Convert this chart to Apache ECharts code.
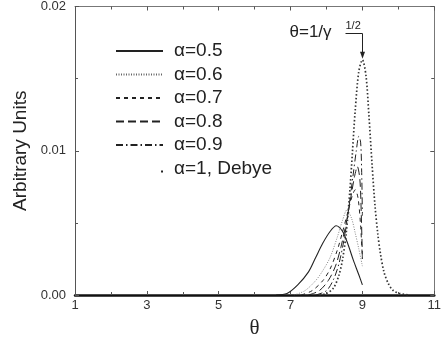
<!DOCTYPE html>
<html>
<head>
<meta charset="utf-8">
<script src="https://cdn.jsdelivr.net/npm/echarts@6/dist/echarts.min.js"></script>
<style>
  html, body { margin: 0; padding: 0; background: #fff; }
  #dom { width: 444px; height: 344px; }
</style>
</head>
<body>
<div id="dom"></div>
<script>
// axis ticks
var xTicks = [1, 3, 5, 7, 9, 11];
var yTicks = [0, 0.01, 0.02];

// alpha = 0.5
var theta05 = [6.6, 6.9, 7.2, 7.5, 7.7, 7.9, 8.1, 8.27, 8.45, 8.6, 8.75, 8.9, 9.0];
var val05 = [0, 0.0001, 0.0007, 0.0016, 0.0026, 0.0036, 0.0044, 0.0048, 0.0044, 0.0035, 0.0024, 0.0014, 0.0007];
// alpha = 0.6
var theta06 = [7.1, 7.4, 7.7, 7.9, 8.1, 8.3, 8.45, 8.57, 8.7, 8.8, 8.9, 9.0];
var val06 = [0, 0.0003, 0.0010, 0.0017, 0.0026, 0.0040, 0.0052, 0.0059, 0.0053, 0.0043, 0.0032, 0.0020];
// alpha = 0.7
var theta07 = [7.3, 7.6, 7.9, 8.1, 8.3, 8.45, 8.6, 8.72, 8.8, 8.88, 8.95, 9.0];
var val07 = [0, 0.0003, 0.0010, 0.0018, 0.0031, 0.0044, 0.0058, 0.0069, 0.0073, 0.0067, 0.0048, 0.0025];
// alpha = 0.8
var theta08 = [7.5, 7.8, 8.05, 8.25, 8.4, 8.55, 8.68, 8.78, 8.86, 8.93, 8.97, 9.0];
var val08 = [0, 0.0003, 0.0010, 0.0020, 0.0033, 0.0050, 0.0068, 0.0082, 0.0089, 0.0080, 0.0055, 0.0025];
// alpha = 0.9
var theta09 = [7.7, 8.0, 8.2, 8.35, 8.5, 8.62, 8.73, 8.83, 8.9, 8.95, 8.98, 9.0];
var val09 = [0, 0.0003, 0.0011, 0.0022, 0.0040, 0.0060, 0.0081, 0.0100, 0.0110, 0.0106, 0.0085, 0.0055];
// alpha = 1, Debye
var thetaD = [7.8, 8.0, 8.2, 8.35, 8.45, 8.55, 8.65, 8.72, 8.8, 8.9, 9.0, 9.1, 9.18, 9.27, 9.35, 9.43, 9.5, 9.6, 9.72, 9.86, 10.05, 10.3];
var valD = [0, 0.0001, 0.0005, 0.0014, 0.0025, 0.0043, 0.0072, 0.0098, 0.0128, 0.0155, 0.0163, 0.0152, 0.0125, 0.0090, 0.0062, 0.0042, 0.0029, 0.0016, 0.0008, 0.0003, 0.0001, 0];

var names = ['α=0.5', 'α=0.6', 'α=0.7', 'α=0.8', 'α=0.9', 'α=1, Debye'];

function pairs(t, v) {
  return t.map(function (x, i) { return [x, v[i]]; });
}

var myChart = echarts.init(document.getElementById('dom'));
var font = 'Liberation Sans';
var ink = '#222';

function lineSeries(name, t, v, lineStyle) {
  return {
    name: name,
    type: 'line',
    symbol: 'none',
    smooth: 0.3,
    xAxisIndex: 0,
    yAxisIndex: 0,
    lineStyle: lineStyle,
    data: pairs(t, v),
    z: 3
  };
}

var tickStyle = { color: '#555', width: 1 };

var option = {
  animation: false,
  grid: { left: 75, right: 8, top: 4, bottom: 40 },
  legend: {
    orient: 'vertical',
    left: 115,
    top: 41,
    padding: 0,
    itemWidth: 47,
    itemHeight: 14,
    itemGap: 3.5,
    itemStyle: { opacity: 0 },
    textStyle: { fontFamily: font, fontSize: 19, lineHeight: 20, color: ink, padding: [0, 0, 0, 6] },
    data: [
      names[0], names[1], names[2], names[3], names[4],
      { name: names[5], icon: 'path://M0,0M46,6h2v2h-2z', itemStyle: { opacity: 1, color: ink } }
    ]
  },
  xAxis: [{
    type: 'value',
    min: 1, max: 11, interval: 2,
    name: 'θ',
    nameLocation: 'middle',
    nameGap: 23,
    nameTextStyle: { fontFamily: 'Liberation Serif', fontSize: 21, color: ink },
    axisLine: { onZero: false, lineStyle: { color: '#111', width: 2.5 } },
    axisTick: { inside: true, length: 4, lineStyle: tickStyle },
    minorTick: { show: true, splitNumber: 2, length: 3, lineStyle: tickStyle },
    splitLine: { show: false },
    axisLabel: {
      margin: 4, fontFamily: font, fontSize: 13, color: '#333',
      formatter: function (v) { return xTicks.indexOf(v) >= 0 ? String(v) : ''; }
    }
  }, {
    type: 'value', position: 'top',
    min: 1, max: 11, interval: 2,
    axisLine: { onZero: false, lineStyle: { color: '#777', width: 1 } },
    axisTick: { inside: true, length: 4, lineStyle: tickStyle },
    minorTick: { show: true, splitNumber: 2, length: 3, lineStyle: tickStyle },
    splitLine: { show: false },
    axisLabel: { show: false }
  }],
  yAxis: [{
    type: 'value',
    min: 0, max: 0.02, interval: 0.01,
    name: 'Arbitrary Units',
    nameLocation: 'middle',
    nameGap: 36,
    nameTextStyle: { fontFamily: font, fontSize: 19, color: ink },
    axisLine: { show: true, onZero: false, lineStyle: { color: '#555', width: 1 } },
    axisTick: { show: true, inside: true, length: 4, lineStyle: tickStyle },
    minorTick: { show: true, splitNumber: 2, length: 3, lineStyle: tickStyle },
    splitLine: { show: false },
    axisLabel: {
      margin: 9, fontFamily: font, fontSize: 13, color: '#333',
      formatter: function (v) { return yTicks.indexOf(v) >= 0 ? v.toFixed(2) : ''; }
    }
  }, {
    type: 'value', position: 'right',
    min: 0, max: 0.02, interval: 0.01,
    axisLine: { show: true, onZero: false, lineStyle: { color: '#777', width: 1 } },
    axisTick: { show: true, inside: true, length: 4, lineStyle: tickStyle },
    minorTick: { show: true, splitNumber: 2, length: 3, lineStyle: tickStyle },
    splitLine: { show: false },
    axisLabel: { show: false }
  }],
  series: [
    lineSeries(names[0], theta05, val05, { color: ink, width: 1.1, type: 'solid' }),
    lineSeries(names[1], theta06, val06, { color: '#666', width: 0.8, type: [1, 1.5] }),
    lineSeries(names[2], theta07, val07, { color: ink, width: 1, type: [4, 4] }),
    lineSeries(names[3], theta08, val08, { color: ink, width: 1, type: [8, 4] }),
    lineSeries(names[4], theta09, val09, { color: ink, width: 1, type: [7, 3, 1.5, 3] }),
    lineSeries(names[5], thetaD, valD, { color: '#333', width: 1.7, type: [1.5, 2.2] })
  ]
};
myChart.setOption(option);

// annotation arrow pointing at the Debye peak
var iMax = 0;
for (var i = 0; i < valD.length; i++) { if (valD[i] > valD[iMax]) iMax = i; }
var pk = myChart.convertToPixel({ xAxisIndex: 0, yAxisIndex: 0 }, [thetaD[iMax], valD[iMax]]);
var px = Math.round(pk[0]) + 0.5, py = pk[1];
var lineY = 33.5;
myChart.setOption({
  graphic: [
    { type: 'text', left: px - 73, top: 24,
      style: { text: 'θ=1/γ', font: '17px "Liberation Sans"', fill: ink } },
    { type: 'text', left: px - 17, top: 20,
      style: { text: '1/2', font: '11px "Liberation Sans"', fill: ink } },
    { type: 'polyline', shape: { points: [[px - 17, lineY], [px, lineY], [px, py - 6]] },
      style: { stroke: ink, lineWidth: 1, fill: null } },
    { type: 'polygon', shape: { points: [[px - 2.5, py - 8], [px + 2.5, py - 8], [px, py - 1]] },
      style: { fill: ink } }
  ]
});
</script>
</body>
</html>
